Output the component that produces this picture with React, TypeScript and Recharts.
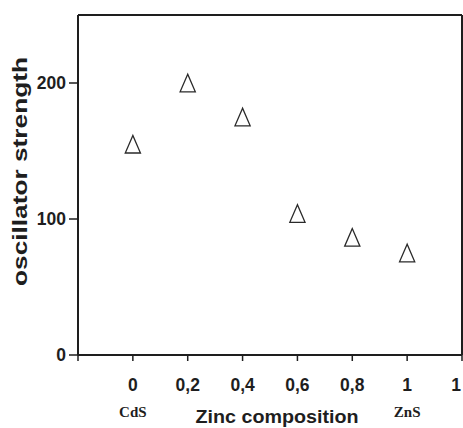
import React from 'react';
import { ScatterChart, Scatter, XAxis, YAxis, ReferenceLine, Label } from 'recharts';

const compositions = [0, 0.2, 0.4, 0.6, 0.8, 1];
const strengths = [155, 200, 175, 104, 86.5, 75];
const xTicks = [-0.2, 0, 0.2, 0.4, 0.6, 0.8, 1, 1.2];
const xTickLabels = ['', '0', '0,2', '0,4', '0,6', '0,8', '1', '1'];
const yTicks = [0, 100, 200];
const endMaterials = [
  { at: 0, name: 'CdS' },
  { at: 1, name: 'ZnS' },
];
const xTitle = 'Zinc composition';
const yTitle = 'oscillator strength';

const data = compositions.map((x, i) => ({ x, y: strengths[i] }));

const INK = '#1e1e1e';
const SANS = '"Liberation Sans", Arial, sans-serif';
const SERIF = '"Liberation Serif", "Times New Roman", serif';

const XTick = (props: any) => {
  const { x, y, payload } = props;
  const i = xTicks.findIndex((t) => Math.abs(t - payload.value) < 1e-6);
  const label = i >= 0 ? xTickLabels[i] : '';
  const dx = i === xTicks.length - 1 ? -6 : 0;
  const end = endMaterials.find((m) => Math.abs(m.at - payload.value) < 1e-6);
  return (
    <g>
      <text x={x + dx} y={y} dy="0.71em" textAnchor="middle" fontFamily={SANS} fontWeight="bold" fontSize={17.5} fill={INK}>
        {label}
      </text>
      {end && (
        <text x={x} y={y + 38} textAnchor="middle" fontFamily={SERIF} fontWeight="bold" fontSize={15} fill={INK}>
          {end.name}
        </text>
      )}
    </g>
  );
};

const Triangle = (props: any) => {
  const { cx, cy } = props;
  const hw = 7.6;
  const hh = 8.8;
  const pts = `${cx},${cy - hh} ${cx - hw},${cy + hh} ${cx + hw},${cy + hh}`;
  return <polygon points={pts} fill="#fff" stroke="#2a2a2a" strokeWidth={1.3} strokeLinejoin="miter" />;
};

const XTitle = (props: any) => {
  const vb = props.viewBox || {};
  const cx = vb.x + vb.width / 2 + 7;
  return (
    <text x={cx} y={423} textAnchor="middle" fontFamily={SANS} fontWeight="bold" fontSize={18.5} fill={INK} textLength={163} lengthAdjust="spacingAndGlyphs">
      {xTitle}
    </text>
  );
};

const YTitle = (props: any) => {
  const vb = props.viewBox || {};
  const cy = vb.y + vb.height / 2 - 13.5;
  const bx = 27;
  return (
    <text x={bx} y={cy} transform={`rotate(-90, ${bx}, ${cy})`} textAnchor="middle" fontFamily={SANS} fontWeight="bold" fontSize={20} fill={INK} textLength={229} lengthAdjust="spacingAndGlyphs">
      {yTitle}
    </text>
  );
};

export default function App() {
  return (
    <div style={{ position: 'absolute', left: 0, top: 0, width: 463, height: 428, background: '#fff' }}>
      <ScatterChart width={463} height={428} margin={{ top: 15, right: 1, bottom: 0, left: 0 }}>
        <XAxis
          type="number"
          dataKey="x"
          domain={[-0.2, 1.2]}
          ticks={xTicks}
          allowDataOverflow
          height={73}
          tickSize={6}
          tickMargin={18}
          axisLine={{ stroke: INK, strokeWidth: 2 }}
          tickLine={{ stroke: INK, strokeWidth: 1.5 }}
          tick={<XTick />}
          interval={0}
        >
          <Label content={<XTitle />} />
        </XAxis>
        <YAxis
          type="number"
          dataKey="y"
          domain={[0, 250]}
          ticks={yTicks}
          allowDataOverflow
          width={78}
          tickSize={9}
          tickMargin={3}
          axisLine={{ stroke: INK, strokeWidth: 2 }}
          tickLine={{ stroke: INK, strokeWidth: 1.5 }}
          tick={{ fill: INK, fontFamily: SANS, fontWeight: 'bold', fontSize: 17.5 }}
          interval={0}
        >
          <Label content={<YTitle />} />
        </YAxis>
        <ReferenceLine y={250} stroke={INK} strokeWidth={2} />
        <ReferenceLine x={1.2} stroke={INK} strokeWidth={2} />
        <Scatter data={data} shape={<Triangle />} isAnimationActive={false} />
      </ScatterChart>
    </div>
  );
}
